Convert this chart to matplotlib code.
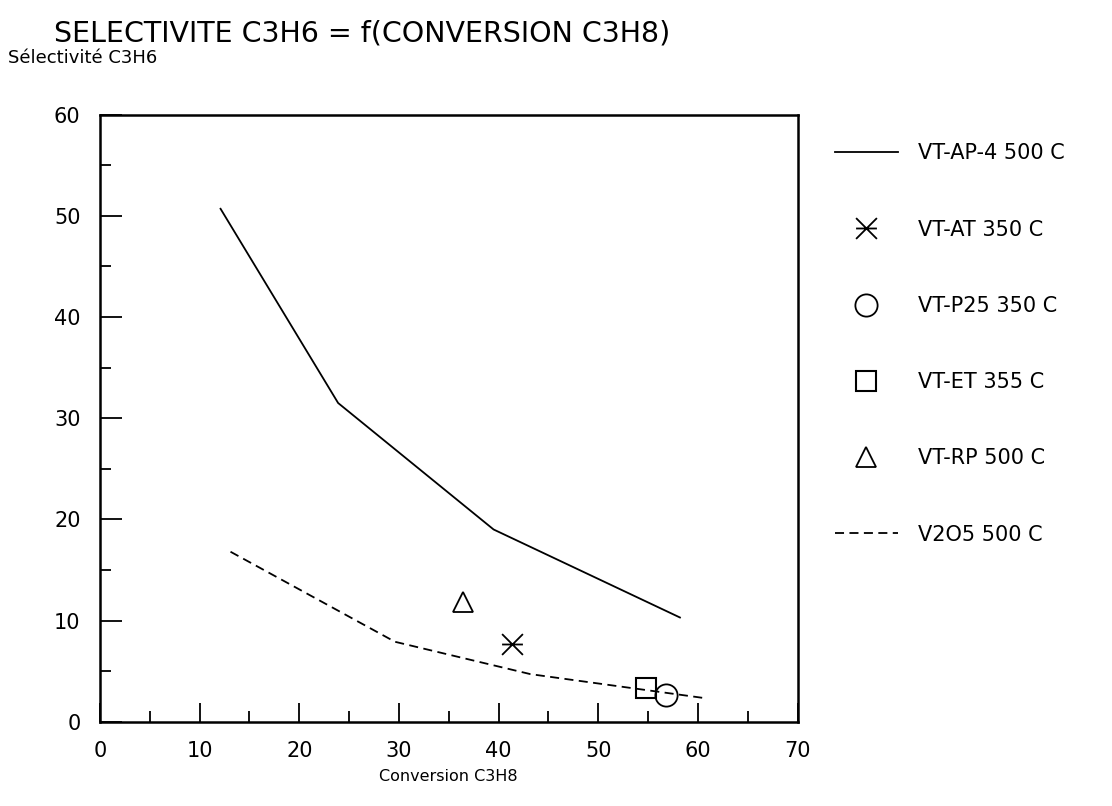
import matplotlib
matplotlib.use("Agg")
import matplotlib.pyplot as plt
from matplotlib.path import Path

# données
conv_ap4 = [12.1, 23.9, 39.5, 58.2]
sel_ap4 = [50.7, 31.5, 19.0, 10.3]

conv_v2o5 = [13.1, 29.6, 43.2, 60.9]
sel_v2o5 = [16.8, 7.9, 4.7, 2.3]

conv_at, sel_at = [41.3], [7.65]
conv_p25, sel_p25 = [56.8], [2.6]
conv_et, sel_et = [54.8], [3.3]
conv_rp, sel_rp = [36.4], [11.8]

labels = ["VT-AP-4 500 C", "VT-AT 350 C", "VT-P25 350 C",
          "VT-ET 355 C", "VT-RP 500 C", "V2O5 500 C"]

# marqueur étoile : barre horizontale + croix
etoile = Path([(-1, 0), (1, 0), (-1, -1), (1, 1), (-1, 1), (1, -1)],
              [Path.MOVETO, Path.LINETO, Path.MOVETO, Path.LINETO,
               Path.MOVETO, Path.LINETO])

plt.rcParams['font.family'] = ['DejaVu Sans']

fig = plt.figure(figsize=(11.12, 8.06), dpi=100)
ax = fig.add_axes([0.0899, 0.1046, 0.6273, 0.7531])

ax.plot(conv_ap4, sel_ap4, color="black", lw=1.3, label=labels[0])
ax.plot(conv_at, sel_at, ls="none", marker=etoile, ms=15, mew=1.3,
        color="black", label=labels[1])
ax.plot(conv_p25, sel_p25, ls="none", marker="o", ms=16, mew=1.3,
        mfc="none", color="black", label=labels[2])
ax.plot(conv_et, sel_et, ls="none", marker="s", ms=15, mew=1.5,
        mfc="none", color="black", label=labels[3])
ax.plot(conv_rp, sel_rp, ls="none", marker="^", ms=15, mew=1.3,
        mfc="none", color="black", label=labels[4])
ax.plot(conv_v2o5, sel_v2o5, color="black", lw=1.3, ls=(0, (5, 3)),
        label=labels[5])

ax.set_xlim(0, 70)
ax.set_ylim(0, 60)
ax.set_xticks(range(0, 71, 10))
ax.set_xticks(range(5, 70, 10), minor=True)
ax.set_yticks(range(0, 61, 10))
ax.set_yticks(range(5, 60, 10), minor=True)
ax.tick_params(which="both", direction="in", top=False, right=False,
               labelsize=15, width=1.3)
ax.tick_params(axis="x", which="major", length=14, pad=14)
ax.tick_params(axis="y", which="major", length=16, pad=14)
ax.tick_params(which="minor", length=8)
for s in ax.spines.values():
    s.set_linewidth(1.8)

ax.set_xlabel("Conversion C3H8", fontsize=11.5, labelpad=6)
fig.text(0.007, 0.928, "Sélectivité C3H6", fontsize=13, va="center")
fig.text(0.049, 0.959, "SELECTIVITE C3H6 = f(CONVERSION C3H8)",
         fontsize=20.5, va="center")

ax.legend(loc="upper left", bbox_to_anchor=(0.751, 0.822),
          bbox_transform=fig.transFigure, frameon=False, fontsize=15,
          handlelength=3.0, handletextpad=1.0, labelspacing=2.7,
          borderpad=0, borderaxespad=0)

fig.savefig("out.png", dpi=100, facecolor="white")
